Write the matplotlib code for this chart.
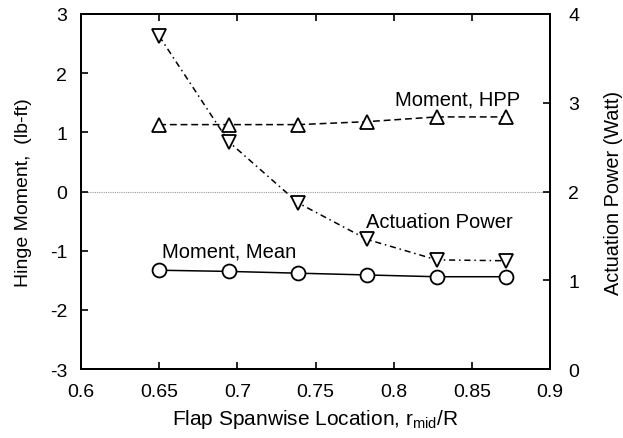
import matplotlib
matplotlib.use("Agg")
import matplotlib.pyplot as plt

plt.rcParams['font.family'] = ['Liberation Sans', 'DejaVu Sans']
plt.rcParams['mathtext.fontset'] = 'custom'
plt.rcParams['mathtext.rm'] = 'Liberation Sans'
plt.rcParams['mathtext.it'] = 'Liberation Sans'
plt.rcParams['axes.unicode_minus'] = False

# Flap spanwise location r_mid/R
r_mid = [0.650, 0.6945, 0.739, 0.783, 0.8275, 0.872]
# Hinge moment (lb-ft)
moment_hpp = [1.13, 1.13, 1.13, 1.18, 1.26, 1.26]
moment_mean = [-1.33, -1.35, -1.38, -1.41, -1.44, -1.44]
# Actuation power (Watt)
power = [3.75, 2.56, 1.87, 1.46, 1.23, 1.22]

x_ticks = [0.6, 0.65, 0.7, 0.75, 0.8, 0.85, 0.9]
left_ticks = [-3, -2, -1, 0, 1, 2, 3]
right_ticks = [0, 1, 2, 3, 4]

fig = plt.figure(figsize=(6.23, 4.39), dpi=100)
ax = fig.add_axes([0.130, 0.157, 0.753, 0.809])
ax2 = ax.twinx()

ax.axhline(0, color='#999999', lw=0.8, ls=(0, (1, 1)), zorder=1)

mk = dict(markersize=10, markerfacecolor='white', markeredgecolor='black',
          markeredgewidth=1.3, color='black', lw=1.1)
ax.plot(r_mid, moment_hpp, marker='^', ls=(0, (4.5, 2.5)), **mk, zorder=3)
ax.plot(r_mid, moment_mean, marker='o', ls='-', **mk, zorder=3)
ax2.plot(r_mid, power, marker='v', ls=(0, (4, 2.5, 1, 2.5)), **mk, zorder=3)

ax.set_xlim(0.6, 0.9)
ax.set_ylim(-3, 3)
ax2.set_ylim(0, 4)
ax.set_xticks(x_ticks)
ax.set_xticklabels([f"{v:g}" for v in x_ticks])
ax.set_yticks(left_ticks)
ax2.set_yticks(right_ticks)

tick_fs = 14
note_fs = 14.5
ax.tick_params(axis='x', direction='in', length=5, width=1.2,
               labelsize=tick_fs, top=True, pad=10)
ax.tick_params(axis='y', direction='in', length=5, width=1.2,
               labelsize=tick_fs, right=False, pad=10)
ax2.tick_params(axis='y', direction='in', length=5, width=1.2,
                labelsize=tick_fs, pad=13)
for a in (ax, ax2):
    for s in a.spines.values():
        s.set_linewidth(1.4)

ax.set_xlabel(r"Flap Spanwise Location, r$_{\mathrm{mid}}$/R", fontsize=15, labelpad=5)
ax.set_ylabel("Hinge Moment,  (lb-ft)", fontsize=14, labelpad=13)
ax2.set_ylabel("Actuation Power (Watt)", fontsize=14.3, labelpad=18)

ax.text(0.841, 1.56, "Moment, HPP", fontsize=note_fs, ha='center', va='center')
ax.text(0.829, -0.51, "Actuation Power", fontsize=note_fs, ha='center', va='center')
ax.text(0.695, -1.00, "Moment, Mean", fontsize=note_fs, ha='center', va='center')

fig.savefig("out.png", dpi=100)
